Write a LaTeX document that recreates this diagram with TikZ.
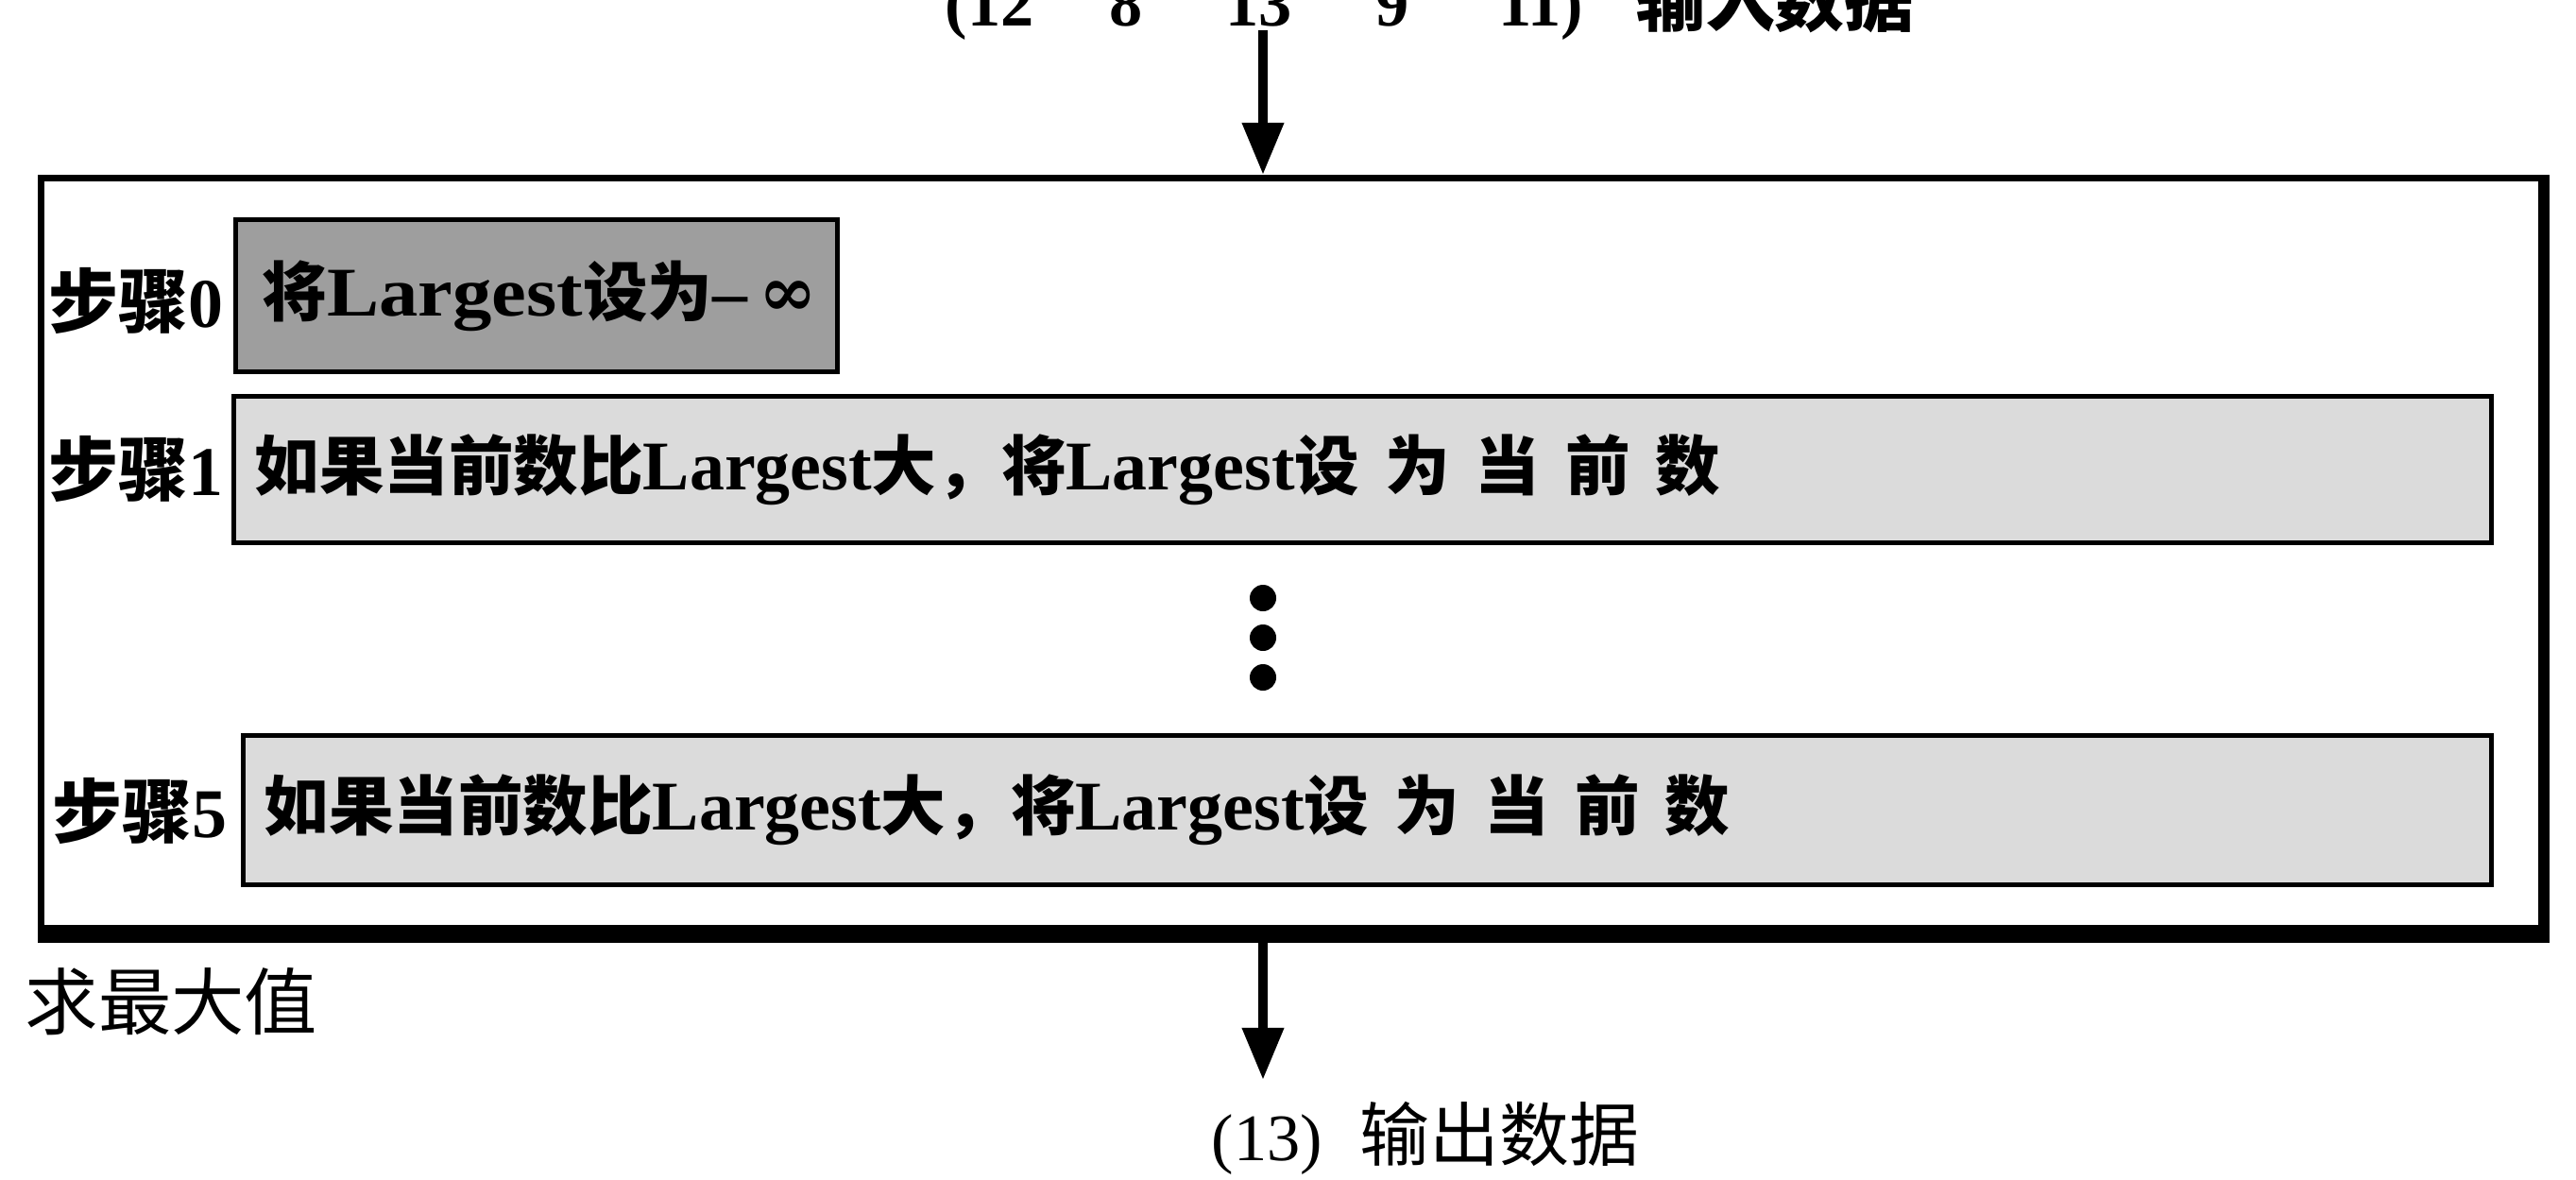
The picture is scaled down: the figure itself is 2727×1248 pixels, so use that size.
\documentclass[tikz,border=0pt]{standalone}
\usepackage{fontspec}
\setmainfont{Liberation Serif}
\newfontfamily\cjk{Noto Sans CJK SC}
\newfontfamily\symf{DejaVu Serif}
\usetikzlibrary{arrows.meta}
% a run of Chinese text in its own size (19.5pt unless given)
\newcommand\zh[2][19.5]{{\cjk\fontsize{#1}{#1}\selectfont #2}}
% the wider-set tail of the step text
\newcommand\settail{\zh{设\hspace{0.27cm}为\hspace{0.27cm}当\hspace{0.27cm}前\hspace{0.27cm}数}}
\begin{document}
\begin{tikzpicture}[x=0.01cm, y=-0.01cm,
  boxtext/.style={font=\fontsize{21}{25}\selectfont\bfseries},
  stepbox/.style={boxtext, draw, line width=0.05cm, anchor=north west,
    inner ysep=0pt, align=left},
  steplabel/.style={boxtext, anchor=east, inner sep=0pt},
  arr/.style={line width=0.1cm, -{Triangle[length=0.55cm,width=0.42cm]}},
  dot/.style={circle, fill, inner sep=0pt, minimum size=0.28cm}]
\useasboundingbox (0,0) rectangle (2727,1248);
\clip (0,0) rectangle (2727,1248);

% input data
\node[anchor=base west, inner sep=0pt, font=\fontsize{20}{24}\selectfont\bfseries] (in) at (1000,27)
  {(12\hspace{0.8cm}8\hspace{0.88cm}13\hspace{0.88cm}9\hspace{0.95cm}11)\hspace{0.55cm}\zh[21]{输入数据}};

% frame of the algorithm
\node[draw, line width=0.07cm, anchor=north west, inner sep=0pt,
  minimum width=26.45cm, minimum height=7.95cm] (outer) at (40,185) {};
\fill ([yshift=0.08cm]outer.south west) rectangle ([xshift=0.05cm,yshift=-0.11cm]outer.south east);
\fill ([xshift=-0.035cm]outer.north east) rectangle ([xshift=0.05cm]outer.south east);

% steps
\node[stepbox, fill=black!38, inner xsep=0.28cm, text width=5.81cm, minimum height=1.61cm] (s0) at (247,230)
  {\mbox{\zh{将}\scalebox{1.12}[1]{Largest}\zh{设为}–\,{\symf\bfseries ∞}}};
\node[stepbox, fill=black!14, inner xsep=0.22cm, text width=23.45cm, minimum height=1.55cm] (s1) at (245,417)
  {\mbox{\zh{如果当前数比}Largest\zh{大，将}Largest\settail}};
\node[stepbox, fill=black!14, inner xsep=0.22cm, text width=23.35cm, minimum height=1.58cm] (s5) at (255,776)
  {\mbox{\zh{如果当前数比}Largest\zh{大，将}Largest\settail}};

\node[steplabel] (l0) at (237,318) {\zh[21]{步骤}0};
\node[steplabel] (l1) at (237,496) {\zh[21]{步骤}1};
\node[steplabel] (l5) at (241,858) {\zh[21]{步骤}5};

% omitted steps
\node[dot] (d1) at (1337,633) {};
\node[dot] (d2) at (1337,675) {};
\node[dot] (d3) at (1337,717) {};

\node[anchor=west, inner sep=0pt] (title) at (26,1060) {\zh[22]{求最大值}};

% output data
\node[anchor=base west, inner sep=0pt, font=\fontsize{20}{24}\selectfont] (out) at (1282,1228)
  {(13)\hspace{0.4cm}\zh[21]{输出数据}};

% flow
\coordinate (a1) at (1337,32);
\draw[arr] (a1) -- (a1 |- outer.north);
\coordinate (a2) at (1337,998);
\coordinate (a3) at (1337,1143);
\draw[arr] (a2) -- (a3);
\end{tikzpicture}
\end{document}
